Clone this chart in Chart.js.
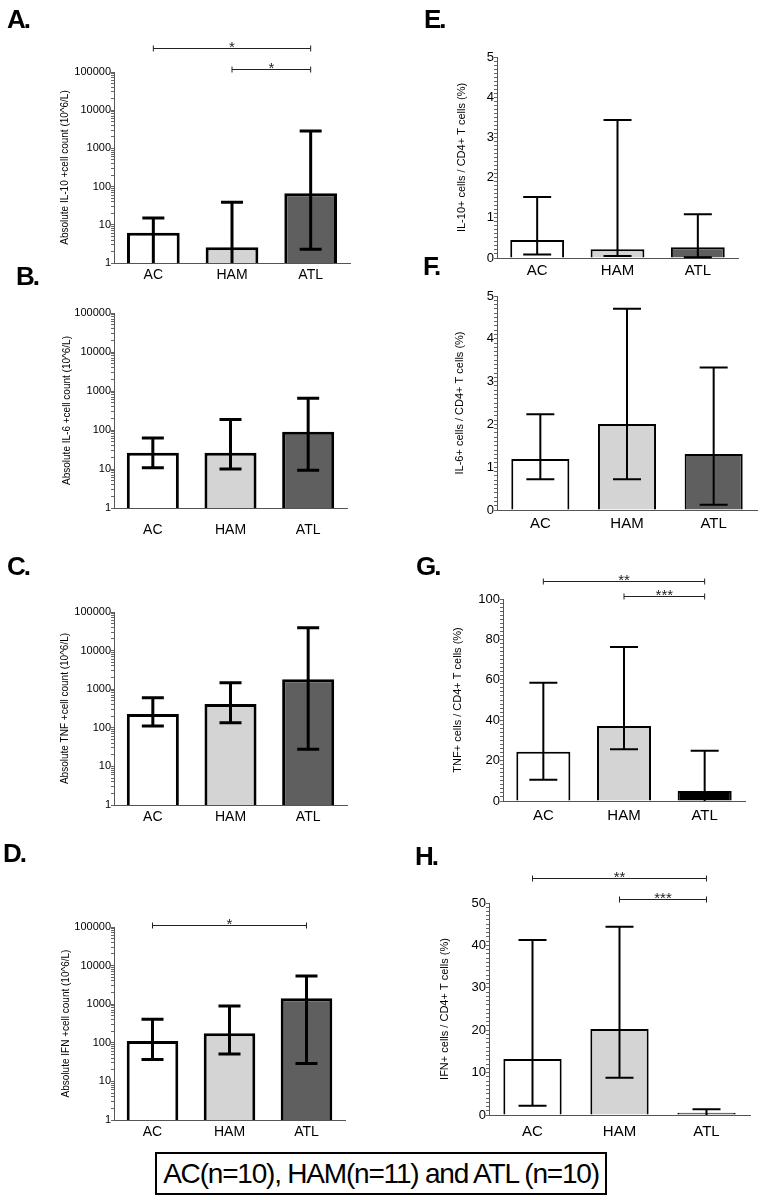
<!DOCTYPE html>
<html>
<head>
<meta charset="utf-8">
<script src="https://cdn.jsdelivr.net/npm/chart.js@4.4.1/dist/chart.umd.min.js"></script>
<style>
  body { margin: 0; background: #fff; width: 760px; height: 1200px; position: relative; overflow: hidden;
         font-family: 'Liberation Sans', Arial, sans-serif; }
  canvas { position: absolute; }
  .tag { position: absolute; z-index: 2; font-weight: bold; font-size: 26px; line-height: 26px; letter-spacing: -2px; }
  #footer { position: absolute; left: 155px; top: 1152px; width: 448px; height: 39px; border: 2px solid #000;
            font-size: 28px; line-height: 39px; text-align: center; letter-spacing: -1.2px; white-space: nowrap; }
</style>
</head>
<body>
<div class="tag" style="left:7px;top:6px">A.</div>
<div class="tag" style="left:16px;top:263px">B.</div>
<div class="tag" style="left:7px;top:553px">C.</div>
<div class="tag" style="left:3px;top:840px">D.</div>
<div class="tag" style="left:424px;top:6px">E.</div>
<div class="tag" style="left:423px;top:253px">F.</div>
<div class="tag" style="left:416px;top:553px">G.</div>
<div class="tag" style="left:415px;top:843px">H.</div>
<div id="footer">AC(n=10), HAM(n=11) and ATL (n=10)</div>

<script>
const groups = ['AC', 'HAM', 'ATL'];
const logMajorTicks = [1, 10, 100, 1000, 10000, 100000];
const pctMajorTicks = [0, 1, 2, 3, 4, 5];
const tnfPctMajorTicks = [0, 20, 40, 60, 80, 100];
const ifnPctMajorTicks = [0, 10, 20, 30, 40, 50];

// absolute counts (10^6/L): bar = median, whisker = low..high
const il10Abs = [6.2, 2.6, 67];
const il10AbsLow = [0.5, 0.5, 2.3];
const il10AbsHigh = [15, 39, 2850];

const il6Abs = [26, 26, 90];
const il6AbsLow = [10.8, 10, 9.3];
const il6AbsHigh = [62, 187, 650];

const tnfAbs = [228, 415, 1800];
const tnfAbsLow = [111, 135, 28];
const tnfAbsHigh = [600, 1480, 39000];

const ifnAbs = [111, 176, 1420];
const ifnAbsLow = [37, 51, 29];
const ifnAbsHigh = [405, 895, 5400];

// percent of CD4+ T cells
const il10Pct = [0.45, 0.22, 0.27];
const il10PctLow = [0.09, 0.05, 0.02];
const il10PctHigh = [1.52, 3.43, 1.09];

const il6Pct = [1.19, 2.01, 1.31];
const il6PctLow = [0.72, 0.72, 0.12];
const il6PctHigh = [2.24, 4.70, 3.33];

const tnfPct = [24.4, 37.1, 5];
const tnfPctLow = [10.5, 25.6, 0];
const tnfPctHigh = [58.6, 76.2, 24.9];

const ifnPct = [13.2, 20.3, 0.55];
const ifnPctLow = [2.2, 8.8, 0];
const ifnPctHigh = [41.3, 44.4, 1.35];

const WHITE = '#ffffff', LIGHT = '#d4d4d4', DARK = '#5f5f5f', BLACK = '#000000';

function logTicks(min, max) {
  const out = [];
  for (let d = min; d < max; d *= 10) {
    for (let k = 1; k < 10; k++) out.push(d * k);
  }
  out.push(max);
  return out;
}

function linTicks(max, step) {
  const out = [];
  const n = Math.round(max / step);
  for (let i = 0; i <= n; i++) out.push(+(i * step).toFixed(4));
  return out;
}

// error bars and significance brackets, positioned through the chart scales
const whiskerPlugin = {
  id: 'whiskers',
  afterDatasetsDraw(chart) {
    const ds = chart.data.datasets[0];
    const meta = chart.getDatasetMeta(0);
    const y = chart.scales.y;
    const area = chart.chartArea;
    const ctx = chart.ctx;
    ctx.save();
    ctx.strokeStyle = '#000';
    ctx.lineWidth = ds.whiskerWidth;
    ctx.lineCap = 'butt';
    meta.data.forEach((bar, i) => {
      const lo = ds.low[i];
      const hi = ds.high[i];
      const yHi = y.getPixelForValue(hi);
      const yLo = lo <= y.min ? area.bottom : Math.min(area.bottom, y.getPixelForValue(lo));
      const half = ds.capWidth / 2;
      ctx.beginPath();
      ctx.moveTo(bar.x, yHi);
      ctx.lineTo(bar.x, yLo);
      ctx.moveTo(bar.x - half, yHi);
      ctx.lineTo(bar.x + half, yHi);
      if (lo > y.min) {
        ctx.moveTo(bar.x - half, yLo);
        ctx.lineTo(bar.x + half, yLo);
      }
      ctx.stroke();
    });
    ctx.restore();
  },
  afterDraw(chart) {
    const ds = chart.data.datasets[0];
    const meta = chart.getDatasetMeta(0);
    const ctx = chart.ctx;
    ctx.save();
    ctx.strokeStyle = '#222';
    ctx.fillStyle = '#222';
    ctx.lineWidth = 1;
    ctx.font = '15px "Liberation Sans", Arial, sans-serif';
    ctx.textAlign = 'center';
    ctx.textBaseline = 'alphabetic';
    (ds.brackets || []).forEach(b => {
      const x1 = meta.data[b.from].x;
      const x2 = meta.data[b.to].x;
      const yy = Math.round(chart.chartArea.top - b.lift) + 0.5;
      ctx.beginPath();
      ctx.moveTo(x1, yy); ctx.lineTo(x2, yy);
      ctx.moveTo(x1, yy - 3); ctx.lineTo(x1, yy + 3);
      ctx.moveTo(x2, yy - 3); ctx.lineTo(x2, yy + 3);
      ctx.stroke();
      ctx.fillText(b.text, (x1 + x2) / 2, yy + 3);
    });
    ctx.restore();
  }
};

const panels = [
  { col: 0, axisX: 114, rightX: 350, topY: 72, bottomY: 263, titleX: 65, labelPad: 4, log: true,
    title: 'Absolute IL-10 +cell count (10^6/L)', data: il10Abs, low: il10AbsLow, high: il10AbsHigh,
    colors: [WHITE, LIGHT, DARK],
    brackets: [{ from: 0, to: 2, lift: 24, text: '*' }, { from: 1, to: 2, lift: 3, text: '*' }] },
  { col: 0, axisX: 114, rightX: 347, topY: 313, bottomY: 508, titleX: 67, labelPad: 14, log: true,
    title: 'Absolute IL-6 +cell count (10^6/L)', data: il6Abs, low: il6AbsLow, high: il6AbsHigh,
    colors: [WHITE, LIGHT, DARK] },
  { col: 0, axisX: 114, rightX: 347, topY: 612, bottomY: 805, titleX: 65, labelPad: 4, log: true,
    title: 'Absolute TNF +cell count (10^6/L)', data: tnfAbs, low: tnfAbsLow, high: tnfAbsHigh,
    colors: [WHITE, LIGHT, DARK] },
  { col: 0, axisX: 114, rightX: 345, topY: 927, bottomY: 1120, titleX: 66, labelPad: 4, log: true,
    title: 'Absolute IFN +cell count (10^6/L)', data: ifnAbs, low: ifnAbsLow, high: ifnAbsHigh,
    colors: [WHITE, LIGHT, DARK],
    brackets: [{ from: 0, to: 2, lift: 2, text: '*' }] },
  { col: 380, axisX: 497, rightX: 738, topY: 57, bottomY: 258, titleX: 462, labelPad: 4,
    max: 5, step: 0.1, majors: pctMajorTicks,
    title: 'IL-10+ cells / CD4+ T cells (%)', data: il10Pct, low: il10PctLow, high: il10PctHigh,
    colors: [WHITE, LIGHT, DARK] },
  { col: 380, axisX: 497, rightX: 757, topY: 296, bottomY: 510, titleX: 460, labelPad: 5,
    max: 5, step: 0.1, majors: pctMajorTicks,
    title: 'IL-6+ cells / CD4+ T cells (%)', data: il6Pct, low: il6PctLow, high: il6PctHigh,
    colors: [WHITE, LIGHT, DARK] },
  { col: 380, axisX: 503, rightX: 745, topY: 599, bottomY: 801, titleX: 458, labelPad: 6,
    max: 100, step: 2, majors: tnfPctMajorTicks,
    title: 'TNF+ cells / CD4+ T cells (%)', data: tnfPct, low: tnfPctLow, high: tnfPctHigh,
    colors: [WHITE, LIGHT, BLACK],
    brackets: [{ from: 0, to: 2, lift: 18, text: '**' }, { from: 1, to: 2, lift: 3, text: '***' }] },
  { col: 380, axisX: 489, rightX: 750, topY: 903, bottomY: 1115, titleX: 445, labelPad: 8,
    max: 50, step: 1, majors: ifnPctMajorTicks,
    title: 'IFN+ cells / CD4+ T cells (%)', data: ifnPct, low: ifnPctLow, high: ifnPctHigh,
    colors: [WHITE, LIGHT, DARK],
    brackets: [{ from: 0, to: 2, lift: 25, text: '**' }, { from: 1, to: 2, lift: 4, text: '***' }] },
];

Chart.defaults.font.family = '"Liberation Sans", Arial, sans-serif';
Chart.defaults.color = '#000';

panels.forEach(p => {
  const canvasTop = Math.max(0, p.topY - 70);
  const labelBand = p.labelPad + 24;
  const height = p.bottomY + labelBand - canvasTop;
  const titleSize = p.log ? 10 : 11;
  const padLeft = p.titleX - p.col - titleSize * 1.2 / 2;

  const canvas = document.createElement('canvas');
  canvas.width = 380;
  canvas.height = height;
  canvas.style.left = p.col + 'px';
  canvas.style.top = canvasTop + 'px';
  document.body.appendChild(canvas);

  const tickValues = p.log ? logTicks(1, 100000) : linTicks(p.max, p.step);
  const majors = p.log ? logMajorTicks : p.majors;
  const thick = p.log ? 3 : 2;

  new Chart(canvas.getContext('2d'), {
    type: 'bar',
    data: {
      labels: groups,
      datasets: [{
        data: p.data,
        low: p.low,
        high: p.high,
        brackets: p.brackets,
        whiskerWidth: thick,
        capWidth: p.log ? 22 : 28,
        backgroundColor: p.colors,
        borderColor: '#000',
        borderWidth: thick,
        barPercentage: 0.67,
        categoryPercentage: 1,
      }],
    },
    options: {
      responsive: false,
      animation: false,
      layout: {
        padding: { top: p.topY - canvasTop, left: padLeft, right: p.col + 380 - p.rightX, bottom: 0 },
      },
      plugins: {
        legend: { display: false },
        tooltip: { enabled: false },
      },
      scales: {
        x: {
          grid: { display: false, drawTicks: false },
          border: { display: true, color: '#555', width: 1 },
          ticks: { font: { size: p.log ? 14 : 15 }, color: '#000', padding: p.labelPad, maxRotation: 0 },
          afterFit: scale => { scale.height = labelBand; },
        },
        y: {
          type: p.log ? 'logarithmic' : 'linear',
          min: p.log ? 1 : 0,
          max: p.log ? 100000 : p.max,
          grid: { drawOnChartArea: false, drawTicks: true, tickLength: 3, color: '#666', lineWidth: 1 },
          border: { display: true, color: '#555', width: 1 },
          ticks: {
            autoSkip: false,
            padding: 0,
            color: '#000',
            font: { size: p.log ? 11 : 13 },
            callback: v => (majors.includes(v) ? String(v) : ''),
          },
          afterBuildTicks: scale => { scale.ticks = tickValues.map(v => ({ value: v })); },
          title: { display: true, text: p.title, font: { size: titleSize }, color: '#000', padding: 0 },
          afterFit: scale => { scale.width = p.axisX - p.col - padLeft; },
        },
      },
    },
    plugins: [whiskerPlugin],
  });
});
</script>
</body>
</html>
